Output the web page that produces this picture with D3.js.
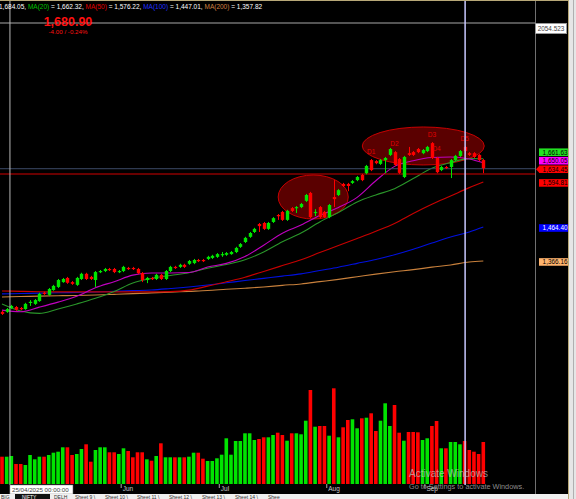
<!DOCTYPE html>
<html><head><meta charset="utf-8">
<script src="https://cdn.jsdelivr.net/npm/d3@7/dist/d3.min.js"></script>
<style>
html,body{margin:0;padding:0;background:#000;overflow:hidden}
svg{display:block;font-family:"Liberation Sans",Arial,sans-serif}
text{white-space:pre}
</style></head><body><div id="chart"></div>
<script>
// ---- daily bars (index 0 .. 103) ----
var opens = [1219,1219,1230,1233,1230,1227,1245,1242,1250,1274,
  1268,1282,1291,1305,1317,1305,1297,1314,1329,1320,
  1311,1334,1337,1343,1343,1334,1337,1346,1346,1343,
  1331,1311,1317,1314,1326,1314,1337,1349,1349,1355,
  1358,1360,1369,1369,1372,1375,1378,1384,1384,1386,
  1392,1407,1421,1436,1450,1473,1476,1459,1479,1499,
  1508,1485,1519,1519,1522,1540,1563,1505,1522,1508,
  1493,1551,1557,1589,1589,1592,1600,1615,1620,1658,
  1655,1647,1658,1673,1681,1661,1609,1678,1681,1690,
  1678,1684,1707,1664,1629,1638,1638,1658,1670,1696,
  1678,1678,1673,1658];
var highs = [1222,1230,1239,1236,1233,1245,1253,1256,1274,1277,
  1288,1297,1314,1317,1320,1308,1320,1332,1332,1323,
  1337,1340,1346,1346,1346,1340,1352,1349,1349,1346,
  1334,1320,1320,1329,1329,1340,1352,1352,1358,1358,
  1369,1372,1372,1372,1381,1384,1389,1392,1392,1395,
  1407,1418,1436,1450,1462,1476,1479,1479,1493,1502,
  1511,1514,1522,1525,1534,1560,1566,1516,1525,1511,
  1531,1600,1574,1592,1592,1600,1612,1618,1644,1661,
  1658,1661,1667,1693,1684,1664,1670,1696,1684,1693,
  1690,1699,1710,1667,1641,1641,1661,1673,1687,1699,
  1681,1681,1675,1661];
var lows = [1210,1216,1227,1222,1224,1225,1236,1239,1248,1268,
  1265,1280,1288,1303,1300,1297,1294,1311,1311,1311,
  1291,1331,1334,1337,1331,1331,1334,1340,1340,1328,
  1305,1302,1311,1311,1311,1311,1334,1343,1346,1346,
  1355,1357,1363,1363,1369,1372,1375,1378,1381,1384,
  1389,1404,1418,1433,1447,1450,1456,1456,1476,1485,
  1482,1482,1508,1505,1519,1537,1490,1496,1490,1490,
  1490,1522,1554,1580,1568,1589,1597,1597,1617,1626,
  1646,1644,1620,1670,1641,1618,1606,1670,1670,1678,
  1675,1681,1661,1620,1626,1632,1606,1655,1667,1675,
  1670,1664,1655,1620];
var closes = [1213,1227,1236,1225,1227,1242,1248,1253,1271,1271,
  1285,1294,1311,1314,1303,1300,1317,1329,1314,1314,
  1334,1337,1343,1340,1334,1337,1349,1343,1343,1331,
  1311,1317,1314,1326,1314,1337,1349,1346,1355,1349,
  1366,1369,1366,1366,1378,1381,1386,1386,1389,1392,
  1404,1415,1433,1447,1459,1467,1459,1476,1490,1496,
  1485,1511,1511,1522,1531,1557,1493,1508,1493,1493,
  1528,1545,1571,1583,1583,1597,1609,1600,1641,1629,
  1649,1658,1664,1690,1644,1621,1667,1673,1673,1681,
  1687,1696,1664,1623,1638,1635,1658,1670,1684,1684,
  1673,1667,1658,1634.45];
var volumes = [2730,2730,2800,2000,2000,1900,2900,2470,2730,2730,
  2900,3130,3230,3670,3670,2900,3000,3500,3970,2230,
  3400,3670,3670,3170,3170,3000,3570,3300,2670,3170,
  3170,2470,2330,2800,4070,2670,2670,2670,2670,2670,
  2730,3130,3130,2530,2300,2300,2570,2930,4570,2930,
  4300,4300,5070,5070,4400,4500,4670,4670,4900,5130,
  4900,4330,5070,5070,4970,6330,9400,5730,5800,5800,
  4830,9570,4670,5670,6400,6470,5570,6570,6630,7070,
  5300,6330,8070,5800,7900,5130,4330,5200,5200,5170,
  4400,4570,5800,6300,3570,3570,4200,4200,3970,4300,
  3400,3230,3000,4200];

// ---- moving averages, read every 4th bar ----
var maIdx = [0,4,8,12,16,20,24,28,32,36,40,44,48,52,56,60,64,68,72,76,80,84,88,92,96,100,103];
var maFast = [1224.0,1219.3,1232.6,1247.1,1264.1,1288.7,1306.3,1325.1,1331.5,1331.5,1332.9,1348.5,1359.2,1379.4,1411.8,1446.5,1469.9,1497.9,1520.8,1550.2,1598.2,1639.8,1656.3,1665.3,1666.7,1661.2,1650.05];
var ma20 = [1241.9,1221.6,1214.4,1227.4,1241.9,1258.1,1277.7,1302.6,1315.6,1324.3,1332.0,1345.0,1355.7,1369.6,1392.1,1421.9,1447.1,1479.1,1506.3,1536.7,1557.2,1575.1,1604.6,1634.2,1650.8,1662.1,1661.63];
var ma50 = [1279.4,1278.3,1277.1,1276.6,1276.6,1276.6,1276.6,1276.6,1276.6,1277.4,1281.7,1293.3,1306.0,1319.0,1335.8,1352.8,1369.9,1390.4,1410.6,1431.2,1452.3,1474.8,1503.4,1530.0,1554.0,1578.3,1594.81];
var ma100 = [1270.8,1271.9,1273.1,1274.2,1275.1,1276.3,1278.3,1280.3,1282.3,1286.4,1291.0,1296.5,1302.9,1309.5,1315.9,1322.2,1328.9,1338.7,1348.2,1359.2,1370.5,1384.0,1400.0,1418.0,1435.5,1450.2,1464.40];
var ma200 = [1262.1,1263.3,1264.4,1265.6,1266.4,1267.6,1269.6,1271.6,1273.7,1276.0,1278.3,1280.6,1284.1,1287.3,1291.0,1295.6,1299.7,1306.3,1313.0,1320.5,1328.0,1334.9,1341.0,1348.2,1354.6,1363.0,1366.16];

var monthNames = ["Jun","Jul","Aug","Sep"];
var monthStart = [26,47,70,91];

var dLabels = ["D1","D2","D3","D4","D5"];
var dIdx = [79,84,92,93,99];
var dPrice = [1677,1700,1726,1683,1712];

var levelLine = 1617.7;
var selectedBar = 99;
var crossIdx = 1.7, crossPrice = 2054.523;

// ---- layout ----
var W = 576, H = 499, plotR = 535;
var svg = d3.select("#chart").append("svg").attr("width", W).attr("height", H);
svg.append("rect").attr("width", W).attr("height", H).attr("fill", "#000");

var x = d3.scaleLinear().domain([0, 103]).range([2, 483.3]);
var y = d3.scaleLinear().domain([1021.8, 2054.523]).range([380, 23]);
var yv = d3.scaleLinear().domain([0, 10400]).range([484, 380]);

var green = "#00e400", red = "#ff0000";
function col(i){ return closes[i] >= opens[i] ? green : red; }

// circled areas
var ells = [{i0:77.1, i1:103.2, p0:1643.8, p1:1753.7}, {i0:59.1, i1:74.1, p0:1487.5, p1:1614.8}];
svg.selectAll(".ell").data(ells).enter().append("ellipse")
  .attr("cx", d => (x(d.i0)+x(d.i1))/2)
  .attr("cy", d => (y(d.p0)+y(d.p1))/2)
  .attr("rx", d => (x(d.i1)-x(d.i0))/2)
  .attr("ry", d => (y(d.p0)-y(d.p1))/2)
  .attr("fill", "#5a0000").attr("stroke", "#c80000").attr("stroke-width", 1);

// moving averages
var line = d3.line().x((d,i) => x(maIdx[i])).y(d => y(d)).curve(d3.curveMonotoneX);
[[ma200,"#c8803c"],[ma100,"#0010e0"],[ma50,"#c80000"],[ma20,"#2a962a"],[maFast,"#c000c0"]].forEach(function(m){
  svg.append("path").datum(m[0]).attr("d", line).attr("fill","none")
    .attr("stroke", m[1]).attr("stroke-width", 1.1);
});

// horizontal lines
svg.append("line").attr("x1",0).attr("x2",plotR).attr("y1",y(closes[103])+0.5).attr("y2",y(closes[103])+0.5)
  .attr("stroke","#3c4a66").attr("stroke-width",1);
svg.append("line").attr("x1",0).attr("x2",plotR).attr("y1",y(levelLine)).attr("y2",y(levelLine))
  .attr("stroke","#d00000").attr("stroke-width",1);

// candles
var idx = d3.range(opens.length);
svg.selectAll(".wick").data(idx).enter().append("line")
  .attr("x1", i => Math.round(x(i))+0.5).attr("x2", i => Math.round(x(i))+0.5)
  .attr("y1", i => y(highs[i])).attr("y2", i => y(lows[i]))
  .attr("stroke", col).attr("stroke-width", 1);
svg.selectAll(".body").data(idx).enter().append("rect")
  .attr("x", i => Math.round(x(i))-1.2).attr("width", 3.4)
  .attr("y", i => y(Math.max(opens[i],closes[i])))
  .attr("height", i => Math.max(1.2, Math.abs(y(opens[i])-y(closes[i]))))
  .attr("fill", col);

// volume
svg.selectAll(".vol").data(idx).enter().append("rect")
  .attr("x", i => x(i)-1.8).attr("width", 3.6)
  .attr("y", i => yv(volumes[i])).attr("height", i => yv(0)-yv(volumes[i]))
  .attr("fill", col);

// D labels
svg.selectAll(".dl").data(dLabels).enter().append("text")
  .attr("x", (d,i) => x(dIdx[i])).attr("y", (d,i) => y(dPrice[i]))
  .attr("text-anchor","middle").attr("fill","#e00000").style("font-size","6.5px").text(d => d);

// crosshair + selected bar
svg.append("line").attr("x1",0).attr("x2",plotR).attr("y1",y(crossPrice)).attr("y2",y(crossPrice))
  .attr("stroke","#a8a8a8");
svg.append("line").attr("x1",x(crossIdx)).attr("x2",x(crossIdx)).attr("y1",0).attr("y2",485)
  .attr("stroke","#b8b8b8");
svg.append("line").attr("x1",x(selectedBar)+0.5).attr("x2",x(selectedBar)+0.5).attr("y1",0).attr("y2",485)
  .attr("stroke","#c8c8ff").attr("stroke-width",1.5);

// axis separator and frame
svg.append("line").attr("x1",plotR+0.5).attr("x2",plotR+0.5).attr("y1",0).attr("y2",494).attr("stroke","#707070");
svg.append("line").attr("x1",0).attr("x2",569).attr("y1",0.5).attr("y2",0.5).attr("stroke","#b8a878");
svg.append("rect").attr("x",568).attr("y",0).attr("width",8).attr("height",H).attr("fill","#e6e6e6");
svg.append("line").attr("x1",568.5).attr("x2",568.5).attr("y1",0).attr("y2",H).attr("stroke","#b8a878");
svg.append("line").attr("x1",573.5).attr("x2",573.5).attr("y1",0).attr("y2",H).attr("stroke","#b0b0b0");

// price labels at right
var tags = [
  {v: ma20[ma20.length-1], bg:"#22e022", fg:"#000"},
  {v: maFast[maFast.length-1], bg:"#ff00ff", fg:"#000"},
  {v: closes[103], bg:"#ff0000", fg:"#000", arrow:true},
  {v: ma50[ma50.length-1], bg:"#ff0000", fg:"#000"},
  {v: ma100[ma100.length-1], bg:"#0000ff", fg:"#fff"},
  {v: ma200[ma200.length-1], bg:"#ffb46e", fg:"#000"}
];
tags.forEach(t => t.cy = y(t.v) + 1);
tags.sort((a,b) => b.cy - a.cy);
for (var k = 1; k < tags.length; k++) {
  if (tags[k-1].cy - tags[k].cy < 8.5) tags[k].cy = tags[k-1].cy - 8.5;
}
var fmt = d3.format(",.2f");
tags.forEach(function(t){
  svg.append("rect").attr("x",539).attr("y",t.cy-3.8).attr("width",29).attr("height",7.6).attr("fill",t.bg);
  if (t.arrow) svg.append("path").attr("d","M536,"+t.cy+"L539.5,"+(t.cy-3.8)+"L539.5,"+(t.cy+3.8)+"Z").attr("fill",t.bg);
  svg.append("text").attr("x",567.5).attr("y",t.cy+2.4).attr("text-anchor","end")
    .attr("fill",t.fg).style("font-size","6.4px").text(fmt(t.v));
});
svg.append("rect").attr("x",535.5).attr("y",23.5).attr("width",31).attr("height",10).attr("fill","#fff").attr("stroke","#999");
svg.append("text").attr("x",551).attr("y",31).attr("text-anchor","middle").attr("fill","#444")
  .style("font-size","6.4px").text(d3.format(".3f")(crossPrice));

// month axis
monthNames.forEach(function(m,i){
  var mx = x(monthStart[i]-0.5);
  svg.append("line").attr("x1",mx).attr("x2",mx).attr("y1",484).attr("y2",488).attr("stroke","#aaa");
  svg.append("text").attr("x",mx+1.5).attr("y",491).attr("fill","#c8c8c8").style("font-size","6.5px").text(m);
});
svg.append("rect").attr("x",x(crossIdx)).attr("y",485).attr("width",63).attr("height",9).attr("fill","#fff").attr("stroke","#888").attr("stroke-width",0.5);
svg.append("text").attr("x",x(crossIdx)+2).attr("y",492).attr("fill","#444").style("font-size","6.2px").text("25/04/2025 00:00:00");

// header
var header = [["1,684.05, ","#fff"],["MA(20)","#00c000"],[" = 1,662.32, ","#fff"],["MA(50)","#e00000"],[" = 1,576.22, ","#fff"],
  ["MA(100)","#2030ff"],[" = 1,447.01, ","#fff"],["MA(200)","#d08040"],[" = 1,357.82","#fff"]];
var ht = svg.append("text").attr("x",-1).attr("y",8.5).style("font-size","6.5px");
header.forEach(h => ht.append("tspan").attr("fill",h[1]).text(h[0]));
svg.append("text").attr("x",68).attr("y",25.5).attr("text-anchor","middle").attr("fill","#ff1010")
  .style("font-size","12.5px").style("font-weight","bold").text("1,680.90");
svg.append("text").attr("x",68).attr("y",33.5).attr("text-anchor","middle").attr("fill","#ff1010")
  .style("font-size","6.2px").text("-4.00 / -0.24%");

// watermark
svg.append("text").attr("x",409).attr("y",477).attr("fill","#c8c8c8").attr("fill-opacity",0.7).style("font-size","10px").text("Activate Windows");
svg.append("text").attr("x",409).attr("y",489).attr("fill","#c8c8c8").attr("fill-opacity",0.7).style("font-size","7.3px").text("Go to Settings to activate Windows.");

// sheet tabs
svg.append("rect").attr("x",0).attr("y",494).attr("width",568).attr("height",5).attr("fill","#f0f0f0");
svg.append("rect").attr("x",15).attr("y",494).attr("width",35).attr("height",5).attr("fill","#111");
var tabs = [["BIG",1],["NIFTY",22],["DELH",54],["Sheet 9 \\",75],["Sheet 10 \\",105],["Sheet 11 \\",137],["Sheet 12 \\",169],["Sheet 13 \\",202],["Sheet 14 \\",235],["Shee",268]];
tabs.forEach(function(t,i){
  svg.append("text").attr("x",t[1]).attr("y",498.6).attr("fill", i==1 ? "#fff" : "#333").style("font-size","5px").text(t[0]);
});
</script>
</body></html>
